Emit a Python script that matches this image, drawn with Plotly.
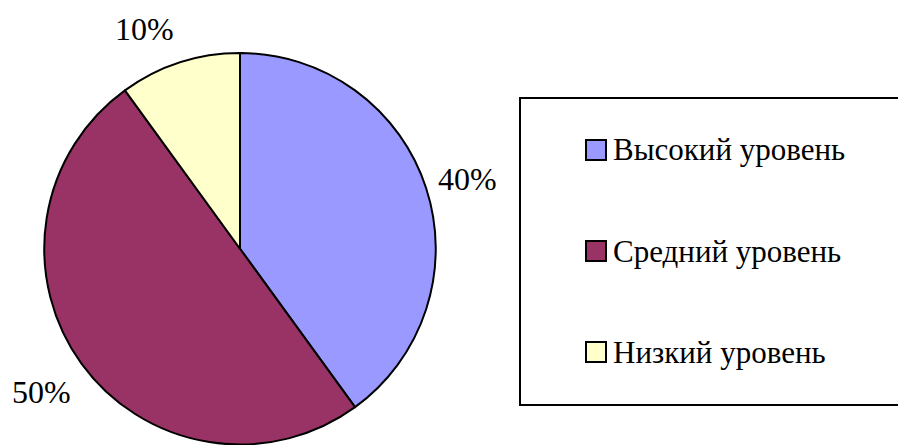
import plotly.graph_objects as go

# ---- data ----
categories = ["Высокий уровень", "Средний уровень", "Низкий уровень"]
values = [40, 50, 10]

# ---- styles ----
colors = ["#9999FF", "#993366", "#FFFFCC"]
W, H = 898, 445
FONT = "Liberation Serif"

def px(x):
    return x / W

def py(y):
    return 1 - y / H

fig = go.Figure()
fig.add_trace(go.Pie(
    labels=categories,
    values=values,
    sort=False,
    direction="clockwise",
    rotation=0,
    marker=dict(colors=colors, line=dict(color="black", width=2)),
    textinfo="none",
    hoverinfo="label+percent",
    showlegend=False,
    domain=dict(x=[px(42), px(438)], y=[py(444.5), py(53)]),
))

total = sum(values)
pct_text = [f"{round(v / total * 100)}%" for v in values]

# outside percentage label positions (pixel centres)
label_pos = [(467, 179), (41, 392), (144.5, 28.5)]
annotations = []
for t, (x, y) in zip(pct_text, label_pos):
    annotations.append(dict(
        x=px(x), y=py(y), xref="paper", yref="paper", text=t,
        showarrow=False, xanchor="center", yanchor="middle",
        font=dict(family=FONT, size=32, color="black"),
    ))

shapes = []
# legend frame (extends past the right edge, as in the reference)
shapes.append(dict(type="rect", xref="paper", yref="paper",
                   x0=px(520), x1=px(930), y0=py(405), y1=py(98),
                   line=dict(color="black", width=2), fillcolor="white",
                   layer="below"))
row_y = [150, 251, 352]
for cat, col, yc in zip(categories, colors, row_y):
    shapes.append(dict(type="rect", xref="paper", yref="paper",
                       x0=px(586), x1=px(606), y0=py(yc + 10), y1=py(yc - 10),
                       line=dict(color="black", width=2), fillcolor=col))
    annotations.append(dict(
        x=px(611), y=py(yc), xref="paper", yref="paper", text=cat,
        showarrow=False, xanchor="left", yanchor="middle",
        font=dict(family=FONT, size=31, color="black"),
    ))

fig.update_layout(
    width=W, height=H,
    margin=dict(l=0, r=0, t=0, b=0),
    paper_bgcolor="white",
    plot_bgcolor="white",
    shapes=shapes,
    annotations=annotations,
    showlegend=False,
)

fig.write_html(
    "out.html",
    config={"displayModeBar": False},
    post_script="document.body.style.margin='0';document.body.style.overflow='hidden';",
)
